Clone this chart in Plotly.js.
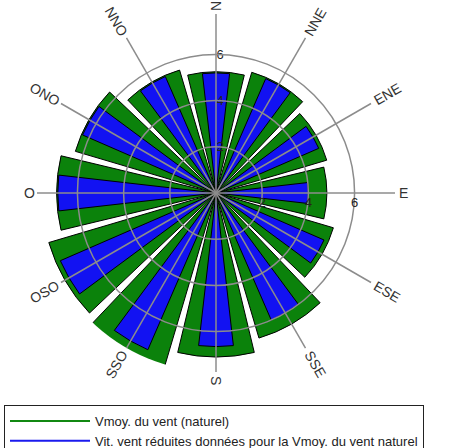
<!DOCTYPE html>
<html>
<head>
<meta charset="utf-8">
<script src="https://cdn.plot.ly/plotly-3.0.1.min.js"></script>
<style>html,body{margin:0;padding:0;background:#fff;}#chart{width:469px;height:448px;}</style>
</head>
<body>
<div id="chart"></div>
<script>
// Directions (French compass labels) and their bearings (degrees, clockwise from north)
const directions = ['N','NNE','ENE','E','ESE','SSE','S','SSO','OSO','O','ONO','NNO'];
const bearings   = [0, 30, 60, 90, 120, 150, 180, 210, 240, 270, 300, 330];
// Vmoy. du vent (naturel)
const naturalSpeed = [5.25, 5.45, 5.0, 4.8, 5.3, 6.55, 7.1, 7.95, 7.55, 6.9, 6.35, 5.55];
// Vit. vent réduites données pour la Vmoy. du vent naturel
const reducedSpeed = [5.2, 5.4, 4.85, 4.0, 5.1, 6.0, 6.65, 7.4, 7.35, 6.85, 6.3, 5.5];
const radialTicks = [2, 4, 6];
const seriesNames = ['Vmoy. du vent (naturel)', 'Vit. vent réduites données pour la Vmoy. du vent naturel'];

const W = 469, H = 448;
const CX = 216, CY = 193, RPX = 179, RMAX = 7.75;
const GREEN = '#0b820b', BLUE = '#1212f2', GRID = '#8c8c8c';
const FONT = 'Liberation Sans, Arial, sans-serif';

const dom = {
  x: [(CX - RPX) / W, (CX + RPX) / W],
  y: [(H - CY - RPX) / H, (H - CY + RPX) / H]
};

const traces = [
  {
    type: 'barpolar', subplot: 'polar', name: seriesNames[0], showlegend: false,
    r: naturalSpeed, theta: bearings, width: 27,
    marker: {color: GREEN, line: {color: '#000', width: 1}}
  },
  {
    type: 'barpolar', subplot: 'polar', name: seriesNames[1], showlegend: false,
    r: reducedSpeed, theta: bearings, width: 13,
    marker: {color: BLUE, line: {color: '#000', width: 1}}
  },
  {
    type: 'scatterpolar', subplot: 'polar2', mode: 'lines', name: seriesNames[0],
    r: [null], theta: [null], line: {color: '#118811', width: 2}
  },
  {
    type: 'scatterpolar', subplot: 'polar2', mode: 'lines', name: seriesNames[1],
    r: [null], theta: [null], line: {color: '#1a1aee', width: 2}
  }
];

const annotations = directions.map((d, i) => {
  const a = bearings[i];
  const off = d.length === 1 ? 8 : 19;
  const rad = a * Math.PI / 180;
  return {
    xref: 'paper', yref: 'paper', showarrow: false,
    x: (CX + (RPX + off) * Math.sin(rad)) / W,
    y: (H - CY + (RPX + off) * Math.cos(rad)) / H,
    xanchor: 'center', yanchor: 'middle',
    text: d, textangle: a <= 180 ? a - 90 : a - 270,
    font: {family: FONT, size: 14, color: '#333'}
  };
});

const layout = {
  width: W, height: H,
  margin: {l: 0, r: 0, t: 0, b: 0, autoexpand: false},
  paper_bgcolor: '#fff',
  showlegend: true,
  legend: {
    x: 4 / W, y: (H - 405) / H, xanchor: 'left', yanchor: 'top',
    bordercolor: '#222', borderwidth: 1, bgcolor: '#fff',
    font: {family: FONT, size: 13, color: '#222'},
    itemwidth: 80, tracegroupgap: 0
  },
  polar: {
    domain: dom, bgcolor: '#fff', barmode: 'overlay',
    radialaxis: {
      range: [0, RMAX], angle: 90, tickangle: 90, tickvals: radialTicks, showgrid: false,
      showline: false, ticks: '', tickfont: {family: FONT, size: 13, color: '#222'}
    },
    angularaxis: {
      direction: 'clockwise', rotation: 90, tickvals: bearings,
      showgrid: false, showline: false, ticks: '', showticklabels: false
    }
  },
  polar2: {
    domain: dom, bgcolor: 'rgba(0,0,0,0)',
    radialaxis: {
      range: [0, RMAX], angle: 0, tickangle: 0, tickvals: radialTicks, showgrid: true,
      gridcolor: GRID, gridwidth: 1.5, showline: false, ticks: '',
      tickfont: {family: FONT, size: 13, color: '#222'}
    },
    angularaxis: {
      direction: 'clockwise', rotation: 90, tickvals: bearings,
      showgrid: true, gridcolor: GRID, gridwidth: 1.5,
      showline: false, ticks: '', showticklabels: false
    }
  },
  annotations: annotations
};

Plotly.newPlot('chart', traces, layout, {staticPlot: true, displayModeBar: false});
</script>
</body>
</html>
